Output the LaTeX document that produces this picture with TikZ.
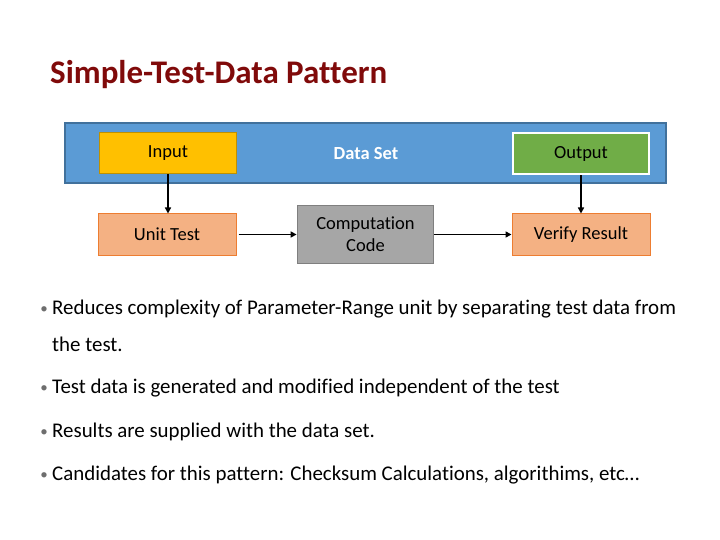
\documentclass[tikz,border=0pt]{standalone}
\usepackage{fontspec}
\setmainfont{Carlito}[Ligatures=NoCommon]
\usetikzlibrary{arrows.meta}
\definecolor{titlered}{RGB}{128,10,10}
\definecolor{bandblue}{RGB}{91,155,213}
\definecolor{bandedge}{RGB}{65,113,156}
\definecolor{inyellow}{RGB}{255,192,0}
\definecolor{inedge}{RGB}{191,144,0}
\definecolor{outgreen}{RGB}{112,173,71}
\definecolor{salmon}{RGB}{244,177,131}
\definecolor{salmonedge}{RGB}{237,125,49}
\definecolor{gbox}{RGB}{166,166,166}
\definecolor{gedge}{RGB}{127,127,127}
\definecolor{bulletgray}{RGB}{110,110,110}
\tikzset{
  box/.style={draw, line width=1pt, inner sep=0pt, font=\fontsize{18.5}{22}\selectfont, align=center},
  conn/.style={line width=1.6pt, -{Triangle[length=6pt,width=6pt]}},
  btext/.style={anchor=base west, inner sep=0pt, font=\fontsize{20.9}{24}\selectfont},
  bdot/.style={anchor=base, inner sep=0pt, text=bulletgray, font=\fontsize{15}{18}\selectfont}
}
\begin{document}
\begin{tikzpicture}[x=1pt,y=-1pt]
\useasboundingbox (0,0) rectangle (720,540);
% title
\node[anchor=base west, inner sep=0pt, text=titlered, font=\fontsize{33}{38}\selectfont\bfseries] (title) at (50,84) {Simple-Test-Data Pattern};
% band
\node[draw=bandedge, fill=bandblue, line width=1.5pt, minimum width=601pt, minimum height=60pt, inner sep=0pt] (band) at (365.5,153) {};
\node[box, draw=inedge, fill=inyellow, minimum width=137pt, minimum height=41pt] (input) at (168,153.5) {Input};
\node[inner sep=0pt, text=white, font=\fontsize{18.5}{22}\selectfont\bfseries] (dataset) at (366,154) {Data Set};
\node[box, draw=white, line width=2.5pt, fill=outgreen, minimum width=136pt, minimum height=41pt] (output) at (581,153.5) {Output};
% second row
\node[box, draw=salmonedge, fill=salmon, minimum width=138pt, minimum height=41pt] (unit) at (167,234.5) {Unit Test};
\node[box, draw=gedge, line width=1.8pt, fill=gbox, minimum width=136pt, minimum height=58pt] (comp) at (365.5,234.5) {Computation\\Code};
\node[box, draw=salmonedge, fill=salmon, minimum width=138pt, minimum height=41pt] (verify) at (581,234.5) {Verify Result};
% connectors
\draw[conn] (input.south -| 168,0) -- (unit.north -| 168,0);
\draw[conn] (output.south) -- (verify.north);
\draw[conn] ([xshift=2pt]unit.east) -- (comp.west);
\draw[conn] (comp.east) -- (verify.west);
% bullets
\node[bdot] (d1) at (44,313) {•};
\node[btext] (b1) at (52,314) {Reduces complexity of Parameter-Range unit by separating test data from};
\node[btext] (b1b) at (52,351) {the test.};
\node[bdot] (d2) at (44,392) {•};
\node[btext] (b2) at (52,393) {Test data is generated and modified independent of the test};
\node[bdot] (d3) at (44,436) {•};
\node[btext] (b3) at (52,437) {Results are supplied with the data set.};
\node[bdot] (d4) at (44,479) {•};
\node[btext] (b4) at (52,480) {Candidates for this pattern: Checksum Calculations, algorithims, etc…};
\end{tikzpicture}
\end{document}
